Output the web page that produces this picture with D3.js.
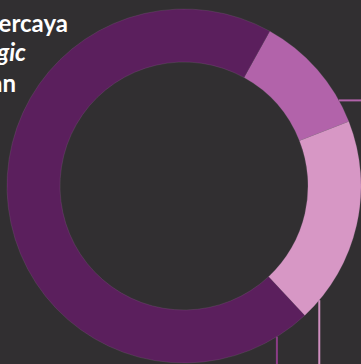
<!DOCTYPE html>
<html>
<head>
<meta charset="utf-8">
<script src="https://cdn.jsdelivr.net/npm/d3@7"></script>
<style>
  html, body { margin: 0; padding: 0; background: #312f31; overflow: hidden; }
  svg { display: block; }
</style>
</head>
<body>
<script>
// Share of respondents per answer, in drawing order (clockwise)
const categories = ["Ragu-ragu", "Tidak percaya", "Percaya"];
const values = [11, 19, 70];
const colors = ["#b263aa", "#d797c5", "#5b1f5d"];
const leaderColors = ["#b263aa", "#d08fc0", "#8b3c87"];

// Title lines (partly running off the left edge)
const titleLines = ["Percaya", "Magic", "Kebetulan"];
const titleItalic = [false, true, false];

const W = 361, H = 364;
const cx = 184, cy = 186;
const outerR = 177, innerR = 124;
const startDeg = 29;

const svg = d3.select("body").append("svg")
  .attr("width", W).attr("height", H);

svg.append("rect").attr("width", W).attr("height", H).attr("fill", "#312f31");

const pie = d3.pie().sort(null).value(d => d)
  .startAngle(startDeg * Math.PI / 180)
  .endAngle(startDeg * Math.PI / 180 + 2 * Math.PI);
const arcs = pie(values);
const arc = d3.arc().innerRadius(innerR).outerRadius(outerR);

const g = svg.append("g").attr("transform", `translate(${cx},${cy})`);
g.selectAll("path.slice").data(arcs).join("path")
  .attr("class", "slice")
  .attr("d", arc)
  .attr("fill", (d, i) => colors[i])
  .attr("stroke", "rgba(150,120,150,0.35)")
  .attr("stroke-width", 0.6);

// Leader lines leave each slice's outer edge toward labels beyond the frame.
// Position along the slice (0..1) and the direction the line runs.
const leaderFrac = [0.81, 0.90, 0.045];
const leaderDir = ["right", "down", "down"];
arcs.forEach((d, i) => {
  const a = d.startAngle + (d.endAngle - d.startAngle) * leaderFrac[i];
  const x0 = Math.sin(a) * outerR, y0 = -Math.cos(a) * outerR;
  const x1 = leaderDir[i] === "right" ? W - cx + 2 : x0;
  const y1 = leaderDir[i] === "down" ? H - cy + 2 : y0;
  g.append("line")
    .attr("x1", x0).attr("y1", y0).attr("x2", x1).attr("y2", y1)
    .attr("stroke", leaderColors[i]).attr("stroke-width", 2);
});

// Title
const titleEnds = [68, 26, 16];
const titleBaselines = [31.5, 61, 91.5];
svg.selectAll("text.title").data(titleLines).join("text")
  .attr("class", "title")
  .attr("x", (d, i) => titleEnds[i])
  .attr("y", (d, i) => titleBaselines[i])
  .attr("text-anchor", "end")
  .attr("fill", "#ffffff")
  .attr("font-family", "Lato, 'Open Sans', sans-serif")
  .attr("font-weight", 700)
  .attr("font-size", 24)
  .attr("font-style", (d, i) => titleItalic[i] ? "italic" : "normal")
  .text(d => d);
</script>
</body>
</html>
